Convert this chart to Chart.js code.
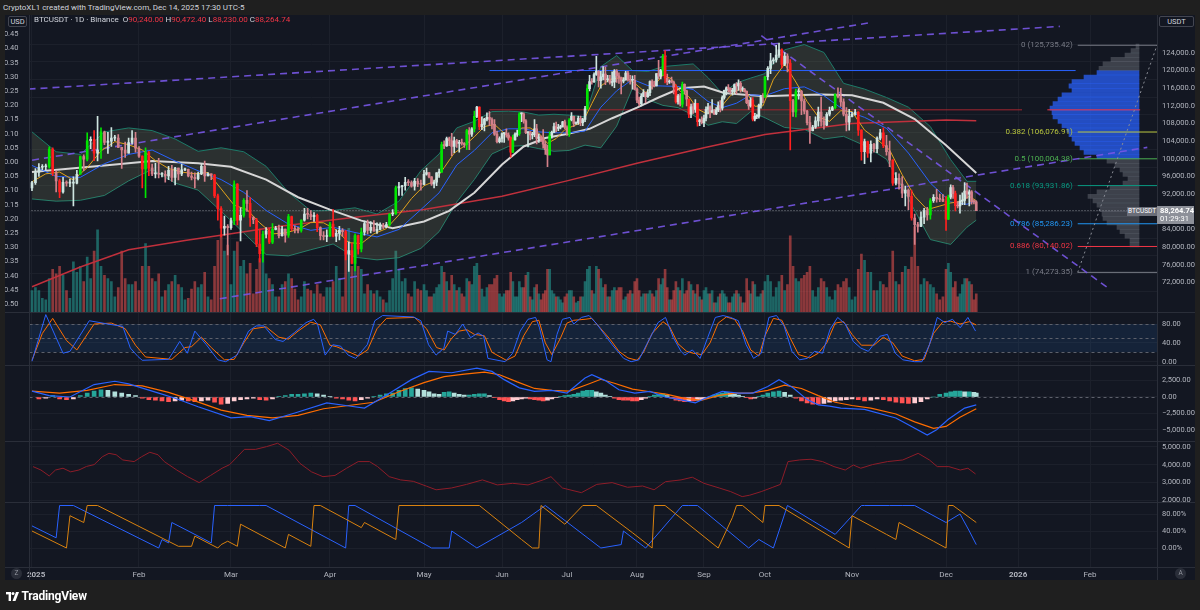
<!DOCTYPE html>
<html lang="en">
<head>
<meta charset="utf-8">
<title>BTCUSDT · 1D · Binance</title>
<script src="https://cdn.jsdelivr.net/npm/chart.js@4.4.1/dist/chart.umd.min.js"></script>
<style>
  html, body { margin: 0; padding: 0; }
  body { position: relative; width: 1200px; height: 610px; overflow: hidden; background: #1f1f1f;
         font-family: Roboto, "Noto Sans", "DejaVu Sans", sans-serif; color: #d1d4dc; }
  #panel { position: absolute; left: 5px; top: 15px; width: 1190px; height: 565px; background: #131722; }
  canvas { position: absolute; left: 5px; }
  .ln { position: absolute; background: #2a2e39; }
  .t { position: absolute; white-space: nowrap; font-size: 8px; line-height: 10px; }
  .box { position: absolute; border: 1px solid #434651; border-radius: 2px; background: #131722;
         color: #d1d4dc; font-size: 7.5px; line-height: 9px; text-align: center; }
  .dot { position: absolute; width: 11px; height: 11px; border-radius: 50%; background: #2a2e39;
         color: #9598a1; font-size: 6.5px; line-height: 11px; text-align: center; }
  .red { color: #f23645; }
</style>
</head>
<body>
<div class="t" style="left:3px;top:3px;color:#d1d4dc">CryptoXL1 created with TradingView.com, Dec 14, 2025 17:30 UTC-5</div>
<div id="panel"></div>
<canvas id="cMain" width="1190" height="297" style="top:15px"></canvas>
<canvas id="cStoch" width="1190" height="52" style="top:313px"></canvas>
<canvas id="cMacd" width="1190" height="75" style="top:366px"></canvas>
<canvas id="cAtr" width="1190" height="60" style="top:442px"></canvas>
<canvas id="cAroon" width="1190" height="77" style="top:503px"></canvas>

<div class="ln" style="left:5px;top:312px;width:1190px;height:1px"></div>
<div class="ln" style="left:5px;top:365px;width:1190px;height:1px"></div>
<div class="ln" style="left:5px;top:441px;width:1190px;height:1px"></div>
<div class="ln" style="left:5px;top:502px;width:1190px;height:1px"></div>
<div class="ln" style="left:5px;top:567px;width:1190px;height:1px"></div>
<div class="ln" style="left:29px;top:15px;width:1px;height:565px"></div>
<div class="ln" style="left:1157px;top:15px;width:1px;height:565px"></div>

<div class="box" style="left:8px;top:16px;width:17px;height:9px">USD</div>
<div class="box" style="left:1159px;top:16px;width:33px;height:9px">USDT</div>
<div class="t" style="left:34px;top:15px">BTCUSDT · 1D · Binance&nbsp; O<span class="red">90,240.00</span> H<span class="red">90,472.40</span> L<span class="red">88,230.00</span> C<span class="red">88,264.74</span></div>
<div class="dot" style="left:11px;top:568px">Z</div>
<div class="dot" style="left:1175px;top:568px">A</div>
<div class="t" style="left:6px;top:589px;font-size:12px;line-height:14px;font-weight:bold;color:#ffffff;letter-spacing:-0.2px">
  <svg width="13" height="9" viewBox="0 0 13 9" style="vertical-align:-1px"><rect x="0" y="0" width="5" height="2.4" fill="#fff"/><rect x="2.6" y="0" width="2.4" height="9" fill="#fff"/><circle cx="7" cy="1.6" r="1.5" fill="#fff"/><path d="M10 0 H13 L9.5 9 H6.5 Z" fill="#fff"/></svg>
  TradingView</div>

<script>
// ---------- data (prices in thousand USDT) ----------
const FIRST_OPEN = 93.4;
const closes = [
  94.6,96.9,98.1,98.2,98.3,102.2,96.9,95.0,92.5,94.7,94.5,94.5,94.5,96.5,100.5,99.9,104.1,104.4,101.3,102.0,106.1,103.7,104.0,104.7,104.7,102.6,102.0,101.3,103.7,104.7,102.4,
  100.6,97.7,101.4,97.9,96.6,96.6,96.5,96.5,96.1,97.4,95.8,97.9,96.6,97.5,97.6,96.1,95.8,95.5,96.6,98.3,96.1,96.6,96.3,91.6,88.7,84.3,84.7,84.4,
  86.0,94.3,86.1,87.2,90.6,89.9,86.7,86.2,80.7,78.5,82.9,83.7,81.1,84.0,84.3,82.6,84.1,82.7,86.9,84.2,84.0,83.8,86.1,87.5,87.4,86.9,87.2,84.4,82.6,82.4,82.5,
  85.2,82.5,83.1,83.8,83.5,78.4,79.2,76.3,82.6,79.6,83.4,85.3,83.8,84.5,83.6,84.0,84.9,84.5,85.1,87.5,87.5,93.4,93.7,93.9,94.7,94.6,93.8,94.9,94.3,94.2,
  96.5,96.9,95.9,94.3,94.7,96.8,97.0,103.2,102.9,104.6,104.1,102.8,104.1,103.5,103.7,103.5,103.2,106.4,105.6,106.8,109.6,111.7,107.3,107.8,109.0,109.4,108.9,107.8,105.6,103.9,104.6,
  105.7,105.8,105.4,104.7,101.5,104.3,105.6,105.7,110.2,110.2,108.6,105.9,106.1,105.4,105.5,106.8,104.6,104.9,104.6,103.3,102.1,100.9,105.3,106.0,107.3,106.9,107.1,107.3,108.4,107.1,
  105.7,108.8,109.6,108.0,108.2,109.2,108.2,108.9,111.3,115.9,117.5,117.4,119.1,119.8,117.7,118.6,119.2,117.9,117.9,117.3,117.4,119.9,118.8,118.4,117.6,117.9,119.4,118.0,117.8,117.8,115.8,
  113.3,112.5,114.2,115.0,114.1,115.0,117.5,116.6,116.5,119.3,118.7,120.1,123.3,118.3,117.4,117.5,117.4,116.2,112.9,114.3,112.4,116.9,115.4,113.5,110.1,111.8,111.2,112.6,108.4,108.8,108.2,
  109.2,111.2,111.7,110.7,110.7,110.2,111.1,112.0,111.5,113.9,115.5,116.1,115.9,115.3,115.3,116.8,116.5,117.1,115.7,115.7,115.3,112.7,112.0,113.3,109.0,109.6,109.6,112.2,114.3,114.0,
  118.6,120.5,122.2,122.4,123.5,124.7,121.4,123.3,121.7,113.2,110.6,115.2,115.3,113.1,110.8,108.2,106.4,107.2,108.6,110.6,108.5,107.6,110.1,111.0,111.6,114.6,114.1,112.9,110.1,108.3,109.6,
  110.1,110.6,106.5,101.6,103.9,101.3,103.3,102.3,104.7,105.9,103.0,101.6,99.7,94.5,95.6,94.3,92.2,92.9,91.5,86.6,85.1,84.7,86.8,88.3,87.3,90.5,91.3,90.9,90.8,90.4,
  86.3,91.3,93.5,92.1,89.4,89.3,90.4,90.6,92.7,92.0,92.5,90.3,90.24,88.26
];
const highs = [
  94.9,97.8,98.9,98.7,98.8,102.7,102.5,97.3,95.4,95.8,95.0,95.4,95.9,97.4,100.7,100.9,105.9,105.0,106.4,109.6,107.0,106.3,106.0,107.1,105.3,105.5,102.6,103.8,104.7,106.4,106.0,
  102.8,100.7,102.5,101.7,98.8,99.0,100.1,96.9,97.3,98.3,98.5,98.1,97.9,98.8,97.9,97.7,97.0,96.8,97.0,98.8,99.5,96.9,96.6,96.5,92.0,89.2,87.0,85.1,
  86.6,95.0,94.4,88.9,91.0,92.8,91.2,86.9,86.5,84.1,83.6,84.4,84.3,85.3,84.7,85.0,84.7,84.1,87.4,87.0,84.8,84.5,86.2,88.8,88.8,88.3,87.8,87.5,84.6,83.5,83.9,
  85.6,88.5,83.9,84.7,84.2,83.8,81.2,80.9,83.0,82.7,84.3,85.9,86.1,85.8,86.0,85.5,85.5,85.4,85.6,87.6,88.5,93.8,94.7,94.0,95.8,95.3,95.0,95.6,95.5,95.2,
  97.4,97.9,96.9,96.0,95.2,96.9,97.7,103.8,104.1,104.9,104.9,105.8,104.9,104.4,104.2,104.5,103.7,106.7,107.1,107.1,110.8,111.9,111.8,109.5,109.2,110.4,110.7,109.3,108.9,106.3,105.0,
  105.9,105.9,106.8,105.9,105.0,105.4,105.9,106.5,110.5,110.4,110.4,108.9,106.2,106.2,106.0,108.9,107.8,105.6,105.2,106.6,104.0,103.1,106.1,106.3,108.1,108.3,107.8,107.6,108.5,108.8,
  107.5,109.1,110.5,109.7,108.4,109.7,109.7,109.2,111.9,116.8,118.9,118.2,119.5,123.2,120.0,119.8,120.9,120.8,118.9,118.9,119.7,120.2,120.2,119.5,118.5,118.4,119.8,119.8,118.9,118.8,118.9,
  116.1,114.0,114.8,115.7,115.1,115.7,117.7,117.9,117.6,119.3,122.3,120.3,123.7,124.5,119.2,117.9,118.5,117.6,116.8,114.6,114.8,117.4,117.0,115.6,113.6,112.4,112.5,113.4,112.6,109.0,109.5,
  109.9,111.8,112.6,112.0,113.4,111.2,111.6,112.9,113.2,114.3,115.6,116.3,116.8,116.1,116.0,117.0,117.3,117.9,117.5,116.3,116.0,115.4,113.3,113.9,113.9,110.3,110.0,112.4,114.4,114.8,
  118.7,120.9,123.9,122.9,125.7,126.2,124.9,124.1,123.8,122.5,113.5,115.8,115.9,115.5,113.6,111.0,109.6,107.6,109.5,111.7,114.0,109.5,110.5,111.7,111.9,114.7,116.1,116.0,113.6,111.6,111.2,
  110.6,111.2,110.7,106.6,104.5,104.0,104.1,103.5,105.0,106.7,107.0,105.3,104.0,99.8,96.9,96.6,96.0,93.8,93.2,92.9,87.5,85.6,88.0,88.8,89.0,91.0,91.9,93.1,92.0,91.9,
  91.5,91.8,94.1,94.0,92.7,90.3,91.8,92.3,94.6,94.5,93.0,92.8,90.7,90.47
];
const lows = [
  92.8,94.2,96.0,97.5,97.3,97.9,96.2,92.5,91.2,92.2,93.8,93.7,89.3,94.3,96.5,97.3,99.5,102.3,99.6,99.5,100.1,103.2,101.2,102.8,104.1,102.5,97.8,100.3,101.3,103.3,101.5,
  100.3,93.4,91.2,96.2,96.2,95.7,95.7,95.9,94.7,95.3,94.9,94.1,95.2,96.2,97.3,95.9,95.2,93.4,95.2,96.4,94.9,96.1,95.3,91.2,86.1,82.3,82.7,78.2,
  84.0,85.1,85.0,81.4,86.8,88.1,84.7,85.3,80.1,76.6,76.6,82.1,80.8,80.8,83.9,82.1,82.5,81.1,82.2,83.7,83.2,83.2,83.4,85.9,86.4,86.2,85.8,83.5,81.6,81.6,81.2,
  82.4,82.3,81.2,81.6,82.4,77.1,74.5,76.2,74.6,78.4,78.9,82.7,83.0,83.2,83.6,83.1,83.9,84.2,84.4,84.8,87.1,87.4,91.7,91.7,92.9,93.9,93.6,92.9,93.7,92.9,
  94.1,96.3,95.7,94.0,93.4,93.9,95.8,96.9,102.3,102.8,103.0,100.7,101.4,102.6,101.5,103.1,102.6,102.1,102.1,105.1,106.1,109.3,106.6,106.6,106.3,108.6,107.5,106.8,105.3,103.6,103.6,
  103.8,103.7,104.9,104.2,100.4,101.4,104.2,105.1,105.3,108.4,108.1,105.7,102.7,104.3,104.5,105.0,103.4,103.7,103.9,102.4,101.0,98.2,100.9,104.7,105.9,106.1,106.4,106.8,107.2,106.8,
  105.3,105.1,108.6,107.3,107.8,107.8,107.5,107.5,108.4,111.2,115.4,116.9,117.3,118.9,116.3,116.0,117.9,116.8,117.4,116.9,116.5,116.1,117.3,117.1,114.7,117.2,117.8,117.6,116.9,115.8,115.6,
  112.7,112.0,112.0,114.1,112.7,113.9,114.3,115.8,116.3,116.5,118.1,118.1,118.9,117.2,116.8,117.1,117.2,114.7,112.6,112.4,112.0,111.7,114.7,112.0,109.3,109.3,110.3,110.5,107.4,107.5,107.9,
  107.3,108.6,110.2,109.3,110.4,110.0,110.0,110.7,110.6,111.0,113.5,114.5,115.2,114.8,114.4,114.8,114.7,115.5,115.1,115.3,115.1,112.5,111.2,111.7,108.6,108.6,109.1,109.2,111.5,112.7,
  113.9,117.9,119.3,121.5,121.9,123.0,120.6,121.1,119.7,102.0,109.6,109.5,113.5,110.0,110.2,107.7,103.5,106.3,106.9,107.4,107.4,106.7,107.5,109.7,110.9,111.3,113.8,111.9,109.7,106.3,106.5,
  109.5,109.9,105.3,99.7,98.9,100.3,99.3,101.5,101.4,104.3,102.5,100.8,98.2,94.0,94.1,93.1,91.2,89.3,88.5,86.1,80.6,83.4,84.6,85.3,86.1,86.3,90.1,90.2,90.3,90.3,
  83.8,86.2,90.9,91.0,88.2,88.9,87.7,89.6,89.6,91.0,89.3,89.7,89.8,88.23
];
// daily volume, thousand BTC
const volumes = [
  14,16,14,9,8,22,28,25,30,24,14,9,33,26,30,20,36,22,40,54,30,24,22,20,10,16,40,22,18,18,20,
  14,30,45,30,22,20,25,10,14,18,20,24,18,16,8,9,15,20,16,18,26,10,8,30,47,50,40,44,
  18,40,46,30,34,25,32,12,28,35,38,25,22,18,10,10,18,20,25,22,15,8,10,20,15,14,12,18,12,10,16,
  16,20,30,22,10,38,55,30,50,30,28,12,18,14,12,14,10,8,6,14,22,40,28,20,22,12,10,20,15,14,
  18,14,10,10,12,16,18,30,26,20,14,24,18,14,16,12,10,22,20,18,30,32,24,15,10,16,18,18,22,24,12,
  10,12,14,14,26,20,10,10,20,16,16,24,26,10,8,16,18,12,8,12,14,28,28,14,12,10,10,8,6,10,
  12,14,14,10,6,7,10,10,20,28,30,14,12,30,28,22,16,18,10,10,14,16,14,16,16,8,10,12,14,12,20,
  22,14,10,12,12,12,14,12,10,14,22,18,22,28,16,8,8,14,20,16,14,22,12,14,20,18,14,12,18,10,8,
  14,16,12,12,14,6,6,10,12,14,12,10,6,6,10,12,14,12,10,6,6,22,14,12,20,18,10,10,12,14,
  20,24,20,10,16,20,24,14,18,50,30,22,20,22,24,26,30,14,10,16,22,20,16,10,8,14,18,16,20,22,16,
  8,10,28,38,34,26,26,14,14,20,18,16,26,40,20,18,26,30,28,36,56,30,18,22,20,18,16,12,8,10,
  28,32,26,16,20,10,12,18,22,22,20,18,8,12
];

// overlays read weekly (day 0, 7, 14, ... 343, then 347)
const bbBasis = [98.5,96.0,95.8,98.9,101.0,102.0,99.5,97.3,95.3,92.4,88.3,85.2,83.8,84.5,83.3,82.3,84.0,88.5,92.3,98.6,101.9,105.9,106.8,106.8,106.1,105.9,105.9,106.3,111.7,115.4,118.0,116.6,116.5,116.4,115.7,113.0,111.6,112.6,114.5,114.3,115.9,116.3,114.3,111.1,109.4,106.9,101.3,94.5,90.2,89.7,90.5];
const bbUpper = [106.1,101.6,101.0,106.1,107.0,106.4,104.5,101.7,102.5,101.6,98.3,92.4,88.2,88.3,88.9,87.5,90.4,97.3,101.1,107.0,108.5,110.7,110.8,110.6,109.9,110.1,109.9,109.5,120.9,123.4,120.0,119.8,120.9,121.2,121.5,118.4,114.8,117.2,118.3,119.3,124.7,125.9,124.1,117.1,115.8,113.9,111.7,107.3,99.8,94.9,94.9];
const bbLower = [90.9,90.4,90.6,91.7,95.0,97.6,94.5,92.9,88.1,83.2,78.3,78.0,79.4,80.7,77.7,77.1,77.6,79.7,83.5,90.2,95.3,101.1,102.8,103.0,102.3,101.7,101.9,103.1,102.5,107.4,116.0,113.4,112.1,111.6,109.9,107.6,108.4,108.0,110.7,109.3,107.1,106.7,104.5,105.1,103.0,99.9,90.9,81.7,80.6,84.5,86.1];
// fast average read every 4 days (day 0, 4, ... 344, then 347)
const fastAvg = [94.8,96.6,97.0,95.2,98.0,101.8,103.9,103.2,102.0,99.6,97.8,97.0,96.6,96.9,93.2,89.5,88.5,85.5,83.0,83.2,84.0,85.6,85.5,83.9,81.0,80.8,83.0,84.2,87.3,91.0,93.9,94.9,98.0,101.3,102.9,105.0,107.3,107.8,105.8,104.5,107.0,107.0,105.8,103.5,104.6,106.6,107.5,108.3,112.5,116.5,118.0,118.3,118.2,116.7,115.0,116.6,119.0,118.1,115.3,114.1,111.3,110.3,110.6,112.1,114.3,115.7,115.1,111.9,112.0,118.0,121.5,117.4,113.0,109.5,108.5,110.9,110.7,106.5,104.4,102.0,96.4,91.5,88.5,89.3,90.0,90.3,91.5,90.5];
// [day, value] pairs
const sma50 = [[0,97.0],[21,98.5],[35,99.5],[49,99.0],[59,98.2],[70,95.3],[80,91.3],[90,88.5],[100,86.0],[110,84.3],[120,85.8],[130,88.2],[140,92.3],[151,98.7],[161,102.8],[171,104.7],[181,105.6],[191,106.8],[201,109.2],[212,111.6],[222,113.9],[232,116.0],[243,116.4],[253,114.9],[263,114.5],[273,114.2],[283,114.4],[293,114.6],[304,114.4],[314,112.7],[324,109.0],[334,103.1],[347,96.8]];
const sma200 = [[0,71.0],[14,75.5],[28,79.4],[45,81.5],[59,83.0],[75,84.8],[96,86.6],[120,88.5],[151,91.5],[181,95.0],[212,99.0],[243,102.5],[273,105.5],[304,108.0],[334,108.8],[347,108.6]];

// volume profile (price bin centre, relative volume)
const vpPrices = [80.5,81.5,82.5,83.5,84.5,85.5,86.5,87.5,88.5,89.5,90.5,91.5,92.5,93.5,94.5,95.5,96.5,97.5,98.5,99.5,100.5,101.5,102.5,103.5,104.5,105.5,106.5,107.5,108.5,109.5,110.5,111.5,112.5,113.5,114.5,115.5,116.5,117.5,118.5,119.5,120.5,121.5,122.5,123.5,124.5,125.5];
const vpVolumes = [9,9,14,19,22,32,36,37,39,42,46,51,42,29,16,11,16,19,24,32,42,55,59,64,67,70,72,77,81,86,87,89,86,81,77,67,70,67,55,42,40,36,28,14,8,3];

// drawings
const fibLabels = ['0','0.382','0.5','0.618','0.786','0.886','1'];
const fibPrices = [125.73542,106.07691,100.00438,93.93186,85.28623,80.14002,74.27335];
const fibSpan = [390.7, 425];
const trendA = [[-1,115.8],[383,130.0]];
const trendB = [[-3.4,99.25],[309.8,130.85]];
const trendC = [[55.6,68.3],[420.8,102.6]];
const trendD = [[271.2,127.9],[404.7,70.4]];
const levelBlue = [[146,120.0],[389.8,120.0]];
const levelRed = [[146,111.1],[366.7,111.1]];
const vpPoc = [[377.6,111.1],[417.7,111.1]];

// indicator panes
const stochK = [[0,1],[4,100],[9,18],[11,22],[16.6,87],[22,80],[26.3,75],[28.5,29],[30.7,11],[32,3],[40,5],[43.4,43],[45.7,18],[48,65],[51.5,36],[55,4],[57.4,0],[60.9,14],[64.5,65],[66.9,76],[69.3,76],[72.9,47],[75.3,43],[78.9,62],[82.5,83],[84.9,90],[86.1,80],[88.5,14],[90.9,36],[93.4,33],[95.8,14],[98.2,7],[101.9,36],[104.3,87],[106.8,98],[116.6,95],[119,87],[121.8,36],[124.8,14],[127.9,29],[129.4,65],[132.4,58],[135.4,80],[138.5,51],[141.5,61],[143.7,54],[145.4,7],[152.4,0],[155.9,18],[159.4,65],[163,90],[166.5,94],[168.3,72],[171.8,4],[173.6,0],[176.4,58],[178.9,90],[182.3,94],[184,80],[187.4,94],[190.8,98],[194.2,80],[197.6,58],[201,36],[206.1,7],[209.4,0],[212.9,4],[216.4,36],[221.7,83],[225.2,94],[228.8,51],[232.4,22],[234.1,14],[237.6,25],[241.2,7],[244.8,51],[248.6,94],[252.4,98],[256.1,94],[259.9,87],[263.7,36],[267.4,7],[271.2,18],[274.4,94],[277.1,98],[279.8,76],[282.6,22],[285.3,4],[288,7],[290.7,22],[293.5,18],[296.2,69],[298.9,94],[301.6,80],[304.4,43],[306.8,29],[309.2,22],[312.9,54],[315.3,58],[317.8,18],[320.2,4],[323.9,0],[326.3,0],[328.7,36],[331.2,94],[333.6,83],[336.8,90],[340.1,72],[343.4,94],[346.7,65]];
const stochD = [[0,3],[3,60],[6,92],[10,45],[13,25],[18,80],[23,82],[27,70],[30,35],[33,10],[41,5],[45,30],[47,32],[50,52],[53,30],[57,4],[60,5],[63,40],[66,70],[70,74],[74,52],[77,48],[80,65],[84,84],[87,78],[90,35],[92,32],[95,24],[99,12],[102,25],[105,70],[108,92],[117,94],[121,70],[125,30],[128,25],[131,50],[134,65],[137,68],[140,58],[144,55],[147,20],[153,3],[157,12],[161,55],[165,85],[168,88],[171,40],[174,15],[178,50],[181,82],[184,88],[189,90],[192,92],[196,70],[200,48],[204,22],[208,8],[212,3],[215,20],[219,60],[224,85],[227,75],[231,38],[235,22],[238,18],[242,15],[246,40],[250,82],[254,95],[258,90],[262,65],[266,25],[270,12],[273,55],[276,92],[279,88],[282,50],[285,15],[289,8],[292,18],[295,40],[298,82],[301,85],[304,58],[307,35],[311,35],[314,52],[317,40],[320,12],[324,2],[327,5],[330,60],[333,85],[336,86],[340,80],[344,85],[347,78]];
// MACD in thousand USDT
const macdLine = [[0,0.9],[5,0.2],[11,0.0],[18,1.9],[24,2.4],[28,2.0],[37,0.6],[42,-0.2],[49,-1.5],[59,-3.2],[65,-3.0],[71,-3.6],[79,-2.45],[89,-0.9],[95,-1.3],[101,-1.7],[107,0.0],[116,2.65],[122,3.9],[131,3.7],[141,4.4],[147,3.9],[152,2.65],[159,1.4],[166,0.86],[174,1.0],[181,0.6],[189,2.9],[192,3.4],[198,2.5],[204,1.1],[211,0.6],[218,0.86],[225,0.0],[232,-0.4],[239,-0.9],[245,0.0],[252,0.86],[260,0.6],[267,0.6],[274,1.6],[278,2.65],[283,1.4],[288,-0.4],[292,-1.2],[296,-1.4],[300,-1.7],[308,-1.9],[318,-3.2],[323,-4.5],[328,-5.8],[331,-5.0],[335,-3.4],[342,-1.7],[347,-1.2]];
const macdSignal = [[0,0.9],[8,0.6],[16,1.0],[24,1.9],[32,1.7],[40,0.7],[48,-0.6],[56,-2.0],[64,-2.8],[72,-3.2],[80,-2.8],[88,-1.8],[96,-1.3],[104,-0.8],[112,0.8],[120,2.2],[128,3.1],[136,3.5],[144,3.8],[150,3.4],[158,2.3],[166,1.3],[174,1.0],[182,0.9],[190,1.9],[196,2.7],[202,2.1],[210,1.2],[218,0.8],[226,0.4],[234,-0.2],[242,-0.5],[250,0.2],[258,0.6],[266,0.6],[274,1.0],[280,1.8],[286,1.3],[292,0.2],[298,-0.8],[304,-1.3],[310,-1.7],[318,-2.6],[324,-3.8],[330,-4.8],[334,-4.5],[340,-3.1],[347,-1.8]];
const macdHist = [[2,-0.3],[4,-0.2],[6,0.2],[8,-0.3],[10,-0.4],[12,-0.3],[14,0.2],[16,0.6],[18,0.9],[20,1.1],[22,1.0],[24,0.8],[26,0.6],[28,0.4],[30,0.2],[32,-0.2],[34,-0.4],[36,-0.5],[38,-0.6],[40,-0.7],[42,-0.6],[44,-0.5],[46,-0.6],[48,-0.7],[50,-0.6],[52,-0.5],[54,-0.8],[56,-1.1],[58,-1.0],[60,-0.6],[62,-0.4],[64,-0.3],[66,-0.2],[68,-0.4],[70,-0.5],[72,-0.3],[74,0.1],[76,0.2],[78,0.4],[80,0.4],[82,0.5],[84,0.6],[86,0.5],[88,0.3],[90,0.1],[92,-0.2],[94,-0.3],[96,-0.5],[98,-0.6],[100,-0.4],[102,-0.2],[104,0.1],[106,0.3],[108,0.5],[110,0.6],[112,1.0],[114,1.3],[116,1.4],[118,1.2],[120,1.0],[122,0.8],[124,0.5],[126,0.4],[128,0.7],[130,0.8],[132,0.6],[134,0.4],[136,0.3],[138,0.3],[140,0.4],[142,0.5],[144,0.5],[146,0.2],[148,-0.1],[150,-0.4],[152,-0.6],[154,-0.7],[156,-0.6],[158,-0.4],[160,-0.3],[162,-0.2],[164,-0.3],[166,-0.4],[168,-0.5],[170,-0.6],[172,-0.5],[174,-0.3],[176,-0.1],[178,0.1],[180,0.2],[182,0.3],[184,0.4],[186,0.6],[188,0.9],[190,1.0],[192,1.0],[194,0.8],[196,0.6],[198,0.3],[200,0.1],[202,-0.2],[204,-0.4],[206,-0.5],[208,-0.5],[210,-0.6],[212,-0.6],[214,-0.4],[216,-0.2],[218,0.1],[220,0.3],[222,0.4],[224,0.5],[226,0.2],[228,-0.2],[230,-0.5],[232,-0.6],[234,-0.7],[236,-0.6],[238,-0.6],[240,-0.5],[242,-0.4],[244,-0.2],[246,0.1],[248,0.3],[250,0.5],[252,0.6],[254,0.7],[256,0.6],[258,0.4],[260,0.3],[262,0.1],[264,-0.1],[266,-0.3],[268,-0.2],[270,0.1],[272,0.3],[274,0.6],[276,0.8],[278,0.9],[280,0.7],[282,0.3],[284,-0.2],[286,-0.6],[288,-0.9],[290,-1.1],[292,-1.1],[294,-1.0],[296,-0.8],[298,-0.6],[300,-0.5],[302,-0.4],[304,-0.3],[306,-0.4],[308,-0.6],[310,-0.5],[312,-0.3],[314,-0.4],[316,-0.6],[318,-0.8],[320,-0.9],[322,-1.0],[324,-0.9],[326,-0.7],[328,-0.3],[330,0.0],[332,0.4],[334,0.6],[336,0.8],[338,0.9],[340,0.9],[342,0.8],[344,0.8],[346,0.7],[347,0.6]];
// ATR in thousand USDT
const atrLine = [[0.3,3.89],[2.6,3.7],[5,3.37],[6.8,3.7],[9,3.8],[11.2,3.6],[13.6,3.7],[15.8,3.9],[18,4.0],[20.4,4.44],[22.3,4.63],[24.4,4.55],[26.3,4.26],[29.6,4.17],[31.8,4.44],[34.3,4.69],[36.8,4.55],[38.7,4.17],[42.5,3.7],[45.8,3.33],[49.3,3.0],[52.8,3.4],[56.3,3.8],[58.6,4.0],[61,4.44],[63.2,4.85],[66.7,4.85],[70.1,5.0],[73.6,5.19],[77.2,4.8],[80.6,4.07],[84.2,3.6],[87.8,3.33],[91.6,3.4],[95.3,3.8],[99,4.17],[102.6,4.17],[105.2,3.89],[108.9,3.33],[112.5,3.15],[116.6,3.07],[121,2.8],[124.8,2.6],[130.9,2.7],[136.9,2.9],[143.2,3.15],[149.1,2.87],[155.9,2.96],[163,2.87],[170,3.15],[173.6,3.33],[178.9,2.7],[187.4,2.44],[194.2,2.9],[201,3.0],[207.8,2.74],[214.6,2.81],[219.9,2.6],[225.2,3.05],[232.4,3.15],[237.6,3.3],[243,2.96],[250.5,2.7],[256.1,2.5],[261.8,2.22],[265.5,2.3],[271.2,2.5],[275.8,2.74],[278.5,2.9],[281.2,4.17],[285.3,4.26],[289.4,4.3],[293.5,4.17],[297.6,3.89],[301.6,3.7],[304.4,3.98],[306.8,3.8],[310.5,4.0],[315.3,4.17],[320.2,4.26],[325.1,4.63],[328.7,4.26],[331.2,3.89],[335.2,3.89],[340.1,3.7],[343.4,3.8],[346.7,3.48]];
const aroonUp = [[0,40],[10,0],[11,76],[15,60],[16,100],[19,100],[43,4],[47,4],[48,28],[55,0],[56,8],[58,16],[61,4],[62,56],[76,0],[77,32],[84,4],[85,100],[87,100],[95,68],[100,48],[101,60],[111,20],[112,100],[142,100],[160,20],[165,0],[168,0],[169,100],[175,76],[180,56],[188,100],[194,100],[210,36],[219,0],[220,100],[225,100],[250,0],[257,72],[259,100],[262,100],[272,60],[273,100],[278,100],[303,0],[304,76],[315,32],[318,20],[319,60],[330,16],[334,0],[335,100],[337,100],[347,60]];
const aroonDown = [[0,52],[7,24],[8,100],[12,100],[37,0],[38,20],[40,12],[41,60],[53,12],[54,100],[58,100],[68,100],[70,100],[95,0],[96,100],[98,100],[123,0],[130,0],[131,40],[140,4],[141,0],[160,60],[171,100],[196,0],[205,8],[206,40],[215,4],[216,0],[233,100],[236,100],[240,100],[265,0],[270,20],[276,0],[281,100],[290,64],[298,32],[307,100],[308,100],[316,100],[320,100],[324,100],[334,60],[340,80],[344,40],[347,8]];

// axes
const monthTicks = [0,31,59,90,120,151,181,212,243,273,304,334,365,396];
const monthLabels = ['\u2002\u20022025','Feb','Mar','Apr','May','Jun','Jul','Aug','Sep','Oct','Nov','Dec','2026','Feb'];
const priceTicks = [72,76,80,84,92,96,100,104,108,112,116,120,124];
const leftTicks = [0.45,0.40,0.35,0.30,0.25,0.20,0.15,0.10,0.05,0,-0.05,-0.10,-0.15,-0.20,-0.25,-0.30,-0.35,-0.40,-0.45,-0.50];

// ---------- time scale: months are not equally wide on this screenshot ----------
const monthFrac = [0.0022,0.0971,0.1787,0.2665,0.3499,0.4191,0.4767,0.5388,0.5982,0.6523,0.7295,0.8129,0.8768,0.9406,1.0];
const monthKnots = [0,31,59,90,120,151,181,212,243,273,304,334,365,396,425];

class TimeFracScale extends Chart.LinearScale {
  static id = 'timefrac';
  static defaults = {};
  getPixelForValue(v) {
    const d = monthKnots, f = monthFrac;
    let i = 0;
    while (i < d.length - 2 && v > d[i + 1]) i++;
    const t = (v - d[i]) / (d[i + 1] - d[i]);
    return this.left + (f[i] + t * (f[i + 1] - f[i])) * this.width;
  }
  getValueForPixel(p) {
    const d = monthKnots, f = monthFrac;
    const r = (p - this.left) / this.width;
    let i = 0;
    while (i < f.length - 2 && r > f[i + 1]) i++;
    return d[i] + (r - f[i]) / (f[i + 1] - f[i]) * (d[i + 1] - d[i]);
  }
}
Chart.register(TimeFracScale);

Chart.defaults.font.family = 'Roboto, "Noto Sans", sans-serif';
Chart.defaults.font.size = 8;
const GRID = '#1c202b';
const TICK = '#b2b5be';
const fmt = v => v.toLocaleString('en-US', { minimumFractionDigits: 2, maximumFractionDigits: 2 });
const pts = pairs => pairs.map(([x, y]) => ({ x, y }));
const weekDays = bbBasis.map((_, i) => (i < 50 ? i * 7 : 347));
const fourDays = fastAvg.map((_, i) => (i < 87 ? i * 4 : 347));

function timeAxis(withLabels) {
  return {
    type: 'timefrac', min: -1, max: 425, offset: false,
    afterBuildTicks: s => { s.ticks = monthTicks.map(v => ({ value: v })); },
    afterFit: s => { s.height = withLabels ? 13 : 0; s.paddingLeft = 0; s.paddingRight = 0; },
    grid: { color: GRID, drawTicks: false, offset: false },
    border: { display: false },
    ticks: {
      display: withLabels, autoSkip: false, maxRotation: 0, padding: 3, color: TICK,
      font: c => ({ size: 8, weight: /\d/.test(monthLabels[c.index] || '') ? 'bold' : 'normal' }),
      callback: (v, i) => monthLabels[i]
    }
  };
}
function rightAxis(min, max, ticks, label) {
  return {
    position: 'right', min, max,
    afterFit: s => { s.width = 38; s.paddingTop = 0; s.paddingBottom = 0; },
    afterBuildTicks: s => { s.ticks = ticks.map(v => ({ value: v })); },
    grid: { color: GRID, drawTicks: false },
    border: { display: false },
    ticks: { padding: 5, color: TICK, font: { size: 7.5 }, callback: label }
  };
}
function options(scales, leftPad, plugins) {
  return {
    responsive: false, animation: false, events: [],
    layout: { padding: { left: leftPad, right: 0, top: 0, bottom: 0 } },
    plugins: Object.assign({ legend: { display: false }, tooltip: { enabled: false } }, plugins || {}),
    scales
  };
}
const line = (data, color, width, order, extra) => Object.assign({
  type: 'line', data, borderColor: color, borderWidth: width, pointRadius: 0, fill: false, order
}, extra || {});

// dashed guides and band behind pane lines
const guides = {
  id: 'guides',
  beforeDatasetsDraw(chart, args, o) {
    const { ctx, chartArea: a } = chart, y = chart.scales.y;
    ctx.save();
    if (o.band) {
      const top = y.getPixelForValue(o.band[1]), bot = y.getPixelForValue(o.band[0]);
      ctx.fillStyle = o.bandColor;
      ctx.fillRect(a.left, top, a.right - a.left, bot - top);
    }
    ctx.strokeStyle = '#5d606b'; ctx.lineWidth = 1; ctx.setLineDash([3, 3]);
    (o.dashed || []).forEach(v => {
      const py = Math.round(y.getPixelForValue(v)) + 0.5;
      ctx.beginPath(); ctx.moveTo(a.left, py); ctx.lineTo(a.right, py); ctx.stroke();
    });
    ctx.restore();
  }
};

// ---------- main pane ----------
const days = closes.map((_, i) => i);
const opens = closes.map((c, i) => (i === 0 ? FIRST_OPEN : closes[i - 1]));
function candleColor(i) {
  const ch = (closes[i] - opens[i]) / opens[i];
  if (ch >= 0) return ch > 0.025 ? '#00e600' : '#cfe5e1';
  return ch < -0.025 ? '#ff1f1f' : '#d4808a';
}
const fibColors = ['#787b86', '#b7c43c', '#4caf50', '#089981', '#2196f3', '#f23645', '#787b86'];
const PURPLE = 'rgba(120,86,230,0.9)';

const mainSets = [
  { type: 'bar', order: 0, grouped: false, barThickness: 2, minBarLength: 1,
    data: days.map(i => ({ x: i, y: [opens[i], closes[i]] })),
    backgroundColor: c => candleColor(c.dataIndex) },
  { type: 'bar', order: 1, grouped: false, barThickness: 1,
    data: days.map(i => ({ x: i, y: [lows[i], highs[i]] })),
    backgroundColor: c => candleColor(c.dataIndex) },
  line(fourDays.map((d, i) => ({ x: d, y: fastAvg[i] })), '#e0a21b', 1, 2),
  line(weekDays.map((d, i) => ({ x: d, y: bbBasis[i] })), '#2962ff', 1, 3),
  line(pts(sma50), '#d6d6d6', 2, 4),
  line(pts(sma200), '#c0303c', 1.5, 5),
  line(pts(trendA), PURPLE, 1.6, 6, { borderDash: [7, 5] }),
  line(pts(trendB), PURPLE, 1.6, 6, { borderDash: [7, 5] }),
  line(pts(trendC), PURPLE, 1.6, 6, { borderDash: [7, 5] }),
  line(pts(trendD), PURPLE, 1.6, 6, { borderDash: [7, 5] }),
  line([{ x: fibSpan[0], y: fibPrices[6] }, { x: fibSpan[1], y: fibPrices[0] }], '#8a8d96', 1, 7, { borderDash: [2, 3] }),
  ...fibPrices.map((p, i) => line([{ x: fibSpan[0], y: p }, { x: fibSpan[1], y: p }], fibColors[i], 1, 7)),
  line([{ x: -1, y: closes[347] }, { x: 425, y: closes[347] }], '#8a8d96', 1, 8, { borderDash: [1, 2] }),
  line(pts(levelBlue), '#2962ff', 1, 9),
  line(pts(levelRed), '#a3262f', 1, 9),
  line(pts(vpPoc), '#f23645', 1, 9),
  line(weekDays.map((d, i) => ({ x: d, y: bbUpper[i] })), '#1d7a68', 1, 10, { fill: '+1', backgroundColor: 'rgba(150,160,110,0.19)' }),
  line(weekDays.map((d, i) => ({ x: d, y: bbLower[i] })), '#1d7a68', 1, 11),
  { type: 'bar', order: 12, grouped: false, indexAxis: 'y', xAxisID: 'xvp', yAxisID: 'y', barThickness: 4.2,
    data: vpPrices.map((p, i) => ({ y: p, x: [0, vpVolumes[i]] })),
    backgroundColor: vpPrices.map(p => (p > 100 && p < 120 ? 'rgba(41,98,255,0.72)' : 'rgba(120,123,134,0.42)')) },
  { type: 'bar', order: 13, grouped: false, yAxisID: 'yv', barThickness: 2,
    data: days.map(i => ({ x: i, y: volumes[i] })),
    backgroundColor: days.map(i => (closes[i] >= opens[i] ? 'rgba(38,166,154,0.55)' : 'rgba(239,83,80,0.55)')) }
];

const mainChart = new Chart(document.getElementById('cMain'), {
  data: { datasets: mainSets },
  options: options({
    x: timeAxis(false),
    y: rightAxis(67.88, 130.0, priceTicks, v => fmt(v * 1000)),
    yl: {
      position: 'left', min: -0.528, max: 0.518,
      afterFit: s => { s.width = 24.5; s.paddingTop = 0; s.paddingBottom = 0; },
      afterBuildTicks: s => { s.ticks = leftTicks.map(v => ({ value: v })); },
      grid: { display: false }, border: { display: false },
      ticks: { padding: 3, color: TICK, font: { size: 7.5 }, callback: v => v.toFixed(2) }
    },
    yv: { display: false, min: 0, max: 195 },
    xvp: { display: false, reverse: true, min: -18, max: 1109.5 }
  }, 0)
});

// ---------- Stoch RSI ----------
new Chart(document.getElementById('cStoch'), {
  data: { datasets: [ line(pts(stochK), '#2962ff', 1, 0), line(pts(stochD), '#ff6d00', 1, 1) ] },
  options: options({ x: timeAxis(false), y: rightAxis(-7.0, 103.4, [0, 40, 80], v => fmt(v)) }, 24.5,
    { guides: { band: [20, 80], bandColor: 'rgba(33,110,200,0.14)', dashed: [20, 50, 80] } }),
  plugins: [guides]
});

// ---------- MACD ----------
new Chart(document.getElementById('cMacd'), {
  data: { datasets: [
    line(pts(macdLine), '#2962ff', 1.2, 0),
    line(pts(macdSignal), '#ff6d00', 1.2, 1),
    { type: 'bar', order: 2, grouped: false, barThickness: 4, data: pts(macdHist),
      backgroundColor: macdHist.map(([, v], i) => {
        const prev = i ? macdHist[i - 1][1] : 0;
        if (v >= 0) return v >= prev ? '#26a69a' : '#b2dfdb';
        return v <= prev ? '#ff5252' : '#ffcdd2';
      }) }
  ] },
  options: options({ x: timeAxis(false),
    y: rightAxis(-6.72, 4.73, [-5, -2.5, 0, 2.5], v => (v < 0 ? '\u2212' + fmt(-v * 1000) : fmt(v * 1000))) }, 24.5,
    { guides: { dashed: [0] } }),
  plugins: [guides]
});

// ---------- ATR ----------
new Chart(document.getElementById('cAtr'), {
  data: { datasets: [ line(pts(atrLine), '#8e1d29', 1, 0) ] },
  options: options({ x: timeAxis(false), y: rightAxis(1.92, 5.26, [2, 3, 4, 5], v => fmt(v * 1000)) }, 24.5)
});

// ---------- Aroon ----------
new Chart(document.getElementById('cAroon'), {
  data: { datasets: [ line(pts(aroonUp), '#d9820f', 1, 0), line(pts(aroonDown), '#2962ff', 1, 1) ] },
  options: options({ x: timeAxis(true), y: rightAxis(-44.7, 105.9, [0, 40, 80], v => fmt(v) + '%') }, 24.5)
});

// ---------- text placed from the main chart's scales ----------
const sx = mainChart.scales.x, sy = mainChart.scales.y;
const pageY = v => 15 + sy.getPixelForValue(v);
const fibLeft = 5 + sx.getPixelForValue(fibSpan[0]);
fibPrices.forEach((p, i) => {
  const d = document.createElement('div');
  d.className = 't';
  d.textContent = fibLabels[i] + ' (' + fmt(p * 1000) + ')';
  d.style.color = fibColors[i];
  d.style.right = (1200 - fibLeft + 5) + 'px';
  d.style.top = (pageY(p) - 5) + 'px';
  document.body.appendChild(d);
});
const last = closes[closes.length - 1];
const tag = document.createElement('div');
tag.className = 't';
tag.style.cssText = 'left:1127px;width:30px;height:9px;background:#6a6d78;color:#fff;font-size:6.5px;line-height:9px;text-align:center;top:' + (pageY(last) - 4) + 'px';
tag.textContent = 'BTCUSDT';
document.body.appendChild(tag);
const price = document.createElement('div');
price.className = 't';
price.style.cssText = 'left:1157px;width:34px;height:17px;background:#8d9099;color:#fff;font-size:7.5px;line-height:8px;padding:1px 0 0 3px;top:' + (pageY(last) - 5) + 'px';
price.innerHTML = '<b>' + fmt(last * 1000 + 4.74) + '</b><br>01:29:31';
document.body.appendChild(price);
</script>
</body>
</html>
